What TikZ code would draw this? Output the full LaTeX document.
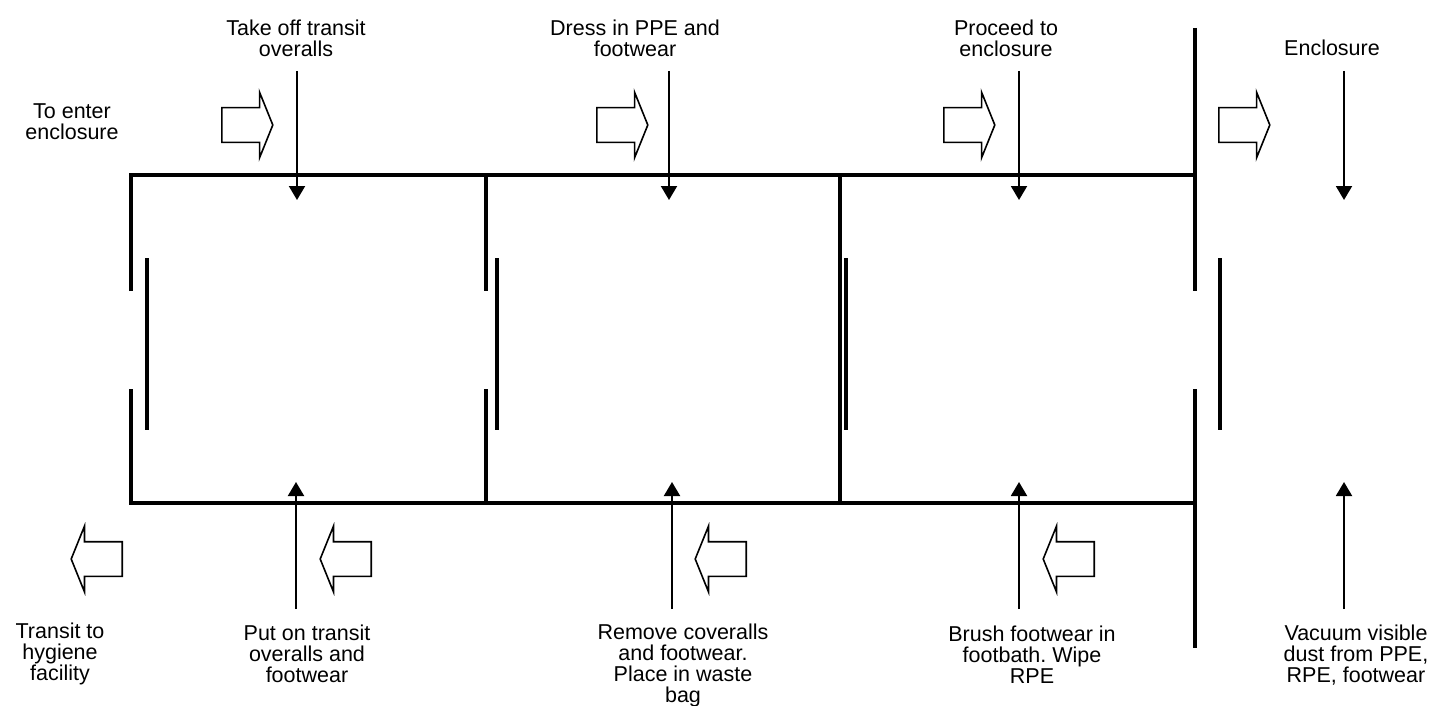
\documentclass[tikz,border=0pt]{standalone}
\usepackage{fontspec}
\setmainfont{Liberation Sans}
\usetikzlibrary{arrows.meta,shapes.arrows}
\frenchspacing

\begin{document}
\begin{tikzpicture}[x=0.5pt, y=-0.5pt]
        \tikzstyle{wall} = [line width=2.4pt, line cap=butt, line join=miter]
        \tikzstyle{label} = [align=center, inner sep=0pt, font=\fontsize{10.75}{10.5}\selectfont]
        \tikzstyle{flow} = [-{Triangle[length=7pt,width=8pt]}, line width=1pt]
        \tikzstyle{go} = [single arrow, draw, line width=0.8pt, inner sep=0pt, text width=0pt, text height=8.25pt, text depth=8.25pt, minimum height=25.5pt, single arrow head extend=7.75pt, single arrow tip angle=136]
        \useasboundingbox (0,0) rectangle (1434,706);
        % walls of the unit
        \draw[wall] (131,291)--(131,175)--(1195,175);
        \draw[wall] (131,389)--(131,503)--(1195,503);
        \draw[wall] (486,175)--(486,291); \draw[wall] (486,389)--(486,503);
        \draw[wall] (840,175)--(840,503);
        \draw[wall] (1195,28)--(1195,291); \draw[wall] (1195,389)--(1195,648);
        % doors
        \draw[wall] (147,258)--(147,430);
        \draw[wall] (497,258)--(497,430);
        \draw[wall] (846,258)--(846,430);
        \draw[wall] (1220,258)--(1220,430);
        % way in
        \node (in1) [go, anchor=tail] at (221,125) {};
        \node (in2) [go, anchor=tail] at (596,125) {};
        \node (in3) [go, anchor=tail] at (943,125) {};
        \node (in4) [go, anchor=tail] at (1218,125) {};
        % way out
        \node (out1) [go, shape border rotate=180, anchor=tail] at (123,559) {};
        \node (out2) [go, shape border rotate=180, anchor=tail] at (372,559) {};
        \node (out3) [go, shape border rotate=180, anchor=tail] at (747,559) {};
        \node (out4) [go, shape border rotate=180, anchor=tail] at (1095,559) {};
        % labels
        \node (enter) [label] at (72,122) {To enter\\enclosure};
        \node (takeoff) [label] at (296,38) {Take off transit\\overalls};
        \node (dress) [label] at (635,38) {Dress in PPE and\\footwear};
        \node (proceed) [label] at (1006,38) {Proceed to\\enclosure};
        \node (encl) [label] at (1332,48) {Enclosure};
        \node (transit) [label] at (60,654) {Transit to\\hygiene\\facility};
        \node (puton) [label] at (307,654) {Put on transit\\overalls and\\footwear};
        \node (remove) [label] at (683,665) {Remove coveralls\\and footwear.\\Place in waste\\bag};
        \node (brush) [label] at (1032,655) {Brush footwear in\\footbath. Wipe\\RPE};
        \node (vacuum) [label] at (1356,655) {Vacuum visible\\dust from PPE,\\RPE, footwear};
        % steps
        \coordinate (takeoffA) at (297,71); \coordinate (takeoffB) at (297,200);
        \coordinate (dressA) at (669,71); \coordinate (dressB) at (669,200);
        \coordinate (proceedA) at (1019,71); \coordinate (proceedB) at (1019,200);
        \coordinate (enclA) at (1344,71); \coordinate (enclB) at (1344,200);
        \coordinate (putonA) at (296,609); \coordinate (putonB) at (296,482);
        \coordinate (removeA) at (672,609); \coordinate (removeB) at (672,482);
        \coordinate (brushA) at (1019,609); \coordinate (brushB) at (1019,482);
        \coordinate (vacuumA) at (1344,609); \coordinate (vacuumB) at (1344,482);
        \draw[flow] (takeoffA)--(takeoffB); \draw[flow] (dressA)--(dressB);
        \draw[flow] (proceedA)--(proceedB); \draw[flow] (enclA)--(enclB);
        \draw[flow] (putonA)--(putonB); \draw[flow] (removeA)--(removeB);
        \draw[flow] (brushA)--(brushB); \draw[flow] (vacuumA)--(vacuumB);
\end{tikzpicture}
\end{document}
